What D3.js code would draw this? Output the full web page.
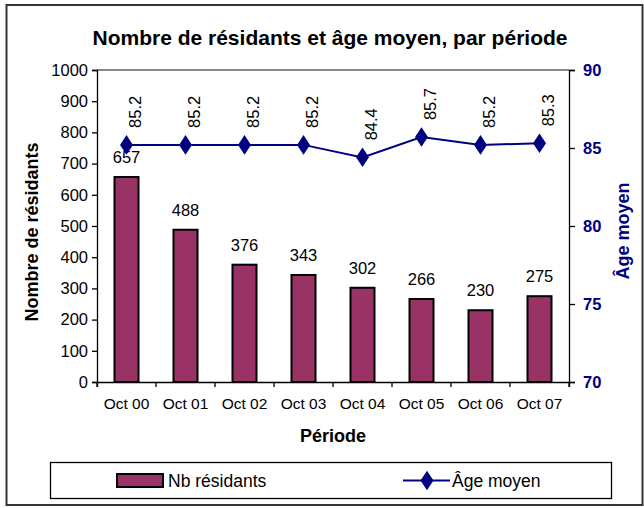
<!DOCTYPE html>
<html>
<head>
<meta charset="utf-8">
<script src="https://cdn.jsdelivr.net/npm/d3@7"></script>
<style>
  body { margin: 0; background: #fff; }
  text { font-family: "Liberation Sans", Arial, sans-serif; }
</style>
</head>
<body>
<div id="chart"></div>
<script>
// data
const PERIODES = ["Oct 00","Oct 01","Oct 02","Oct 03","Oct 04","Oct 05","Oct 06","Oct 07"];
const RESIDANTS = [657, 488, 376, 343, 302, 266, 230, 275];
const AGE = [85.2, 85.2, 85.2, 85.2, 84.4, 85.7, 85.2, 85.3];
const LEFT_TICKS = [0,100,200,300,400,500,600,700,800,900,1000];
const RIGHT_TICKS = [70,75,80,85,90];

const NAVY = "#000080", BAR = "#993366";
const FONT = "'Liberation Sans', Arial, sans-serif";

var width = 644, height = 508;
var svg = d3.select("#chart").append("svg")
    .attr("width", width).attr("height", height);

// outer frame
svg.append("rect")
    .attr("x", 6.5).attr("y", 5).attr("width", 636).attr("height", 500)
    .attr("fill", "#fff").attr("stroke", "#333").attr("stroke-width", 2);

var plot = {left: 97, right: 569, top: 70, bottom: 382};

var x = d3.scaleBand().domain(PERIODES).range([plot.left, plot.right]);
var yL = d3.scaleLinear().domain([0, 1000]).range([plot.bottom, plot.top]);
var yR = d3.scaleLinear().domain([70, 90]).range([plot.bottom, plot.top]);

// top border of plot area
svg.append("line")
    .attr("x1", plot.left).attr("x2", plot.right)
    .attr("y1", plot.top).attr("y2", plot.top)
    .attr("stroke", "#888").attr("stroke-width", 2);

// title
svg.append("text")
    .attr("x", 330).attr("y", 45)
    .attr("text-anchor", "middle")
    .attr("font-size", 21).attr("font-weight", "bold")
    .text("Nombre de résidants et âge moyen, par période");

// bars
var barW = 24;
svg.selectAll(".bar").data(RESIDANTS).enter().append("rect")
    .attr("class", "bar")
    .attr("x", (d, i) => x(PERIODES[i]) + x.bandwidth()/2 - barW/2)
    .attr("y", d => yL(d))
    .attr("width", barW)
    .attr("height", d => yL(0) - yL(d))
    .attr("fill", BAR).attr("stroke", "#000").attr("stroke-width", 2);

svg.selectAll(".barlab").data(RESIDANTS).enter().append("text")
    .attr("class", "barlab")
    .attr("x", (d, i) => x(PERIODES[i]) + x.bandwidth()/2)
    .attr("y", d => yL(d) - 14)
    .attr("text-anchor", "middle")
    .attr("font-size", 16.5)
    .text(d => d);

// axes
var axL = d3.axisLeft(yL).tickValues(LEFT_TICKS).tickFormat(d3.format("d")).tickSize(5).tickPadding(4);
var gL = svg.append("g").attr("transform", "translate(" + plot.left + ",0)").call(axL);
gL.selectAll("text").attr("font-size", 16.5).attr("font-family", FONT).attr("fill", "#000");
gL.selectAll("line, path").attr("stroke", "#000").attr("stroke-width", 1.3);

var axR = d3.axisRight(yR).tickValues(RIGHT_TICKS).tickSize(6).tickPadding(8);
var gR = svg.append("g").attr("transform", "translate(" + plot.right + ",0)").call(axR);
gR.selectAll("text").attr("font-size", 16.5).attr("font-weight", "bold")
    .attr("font-family", FONT).attr("fill", NAVY);
gR.selectAll("line, path").attr("stroke", "#000").attr("stroke-width", 1.3);

var axB = d3.axisBottom(x).tickSize(5).tickPadding(11);
var gB = svg.append("g").attr("transform", "translate(0," + plot.bottom + ")").call(axB);
gB.selectAll(".tick line").attr("x1", -x.bandwidth()/2).attr("x2", -x.bandwidth()/2);
gB.append("line").attr("x1", plot.right).attr("x2", plot.right).attr("y1", 0).attr("y2", 5).attr("stroke", "#000");
gB.selectAll("text").attr("font-size", 15.5).attr("font-family", FONT).attr("fill", "#000");
gB.selectAll("line, path").attr("stroke", "#000").attr("stroke-width", 1.3);

// axis titles
svg.append("text")
    .attr("transform", "translate(38,232) rotate(-90)")
    .attr("text-anchor", "middle")
    .attr("font-size", 18).attr("font-weight", "bold")
    .text("Nombre de résidants");

svg.append("text")
    .attr("transform", "translate(629,231) rotate(-90)")
    .attr("text-anchor", "middle")
    .attr("font-size", 18).attr("font-weight", "bold").attr("fill", NAVY)
    .text("Âge moyen");

svg.append("text")
    .attr("x", 333).attr("y", 442)
    .attr("text-anchor", "middle")
    .attr("font-size", 18).attr("font-weight", "bold")
    .text("Période");

// age line
var line = d3.line()
    .x((d, i) => x(PERIODES[i]) + x.bandwidth()/2)
    .y(d => yR(d));
svg.append("path").datum(AGE)
    .attr("d", line).attr("fill", "none")
    .attr("stroke", NAVY).attr("stroke-width", 2);

var diamond = d3.symbol().type(d3.symbolDiamond).size(110);
svg.selectAll(".pt").data(AGE).enter().append("path")
    .attr("class", "pt")
    .attr("d", diamond)
    .attr("transform", (d, i) => "translate(" + (x(PERIODES[i]) + x.bandwidth()/2) + "," + yR(d) + ") scale(1.15,1)")
    .attr("fill", NAVY);

svg.selectAll(".agelab").data(AGE).enter().append("text")
    .attr("class", "agelab")
    .attr("transform", (d, i) => "translate(" + (x(PERIODES[i]) + x.bandwidth()/2 + 14) + "," + (yR(d) - 17) + ") rotate(-90)")
    .attr("text-anchor", "start")
    .attr("font-size", 16.5)
    .text(d => d3.format(".1f")(d));

// legend
var leg = svg.append("g");
leg.append("rect")
    .attr("x", 50.5).attr("y", 462.5).attr("width", 561).attr("height", 36)
    .attr("fill", "#fff").attr("stroke", "#000").attr("stroke-width", 1.3);
leg.append("rect")
    .attr("x", 117).attr("y", 474).attr("width", 46).attr("height", 13)
    .attr("fill", BAR).attr("stroke", "#000").attr("stroke-width", 2);
leg.append("text")
    .attr("x", 168).attr("y", 486.5)
    .attr("font-size", 17.5)
    .text("Nb résidants");
leg.append("line")
    .attr("x1", 403).attr("x2", 450).attr("y1", 480.5).attr("y2", 480.5)
    .attr("stroke", NAVY).attr("stroke-width", 2);
leg.append("path")
    .attr("d", diamond)
    .attr("transform", "translate(427,480.5) scale(1.15,1)")
    .attr("fill", NAVY);
leg.append("text")
    .attr("x", 452).attr("y", 486.5)
    .attr("font-size", 17.5)
    .text("Âge moyen");
</script>
</body>
</html>
